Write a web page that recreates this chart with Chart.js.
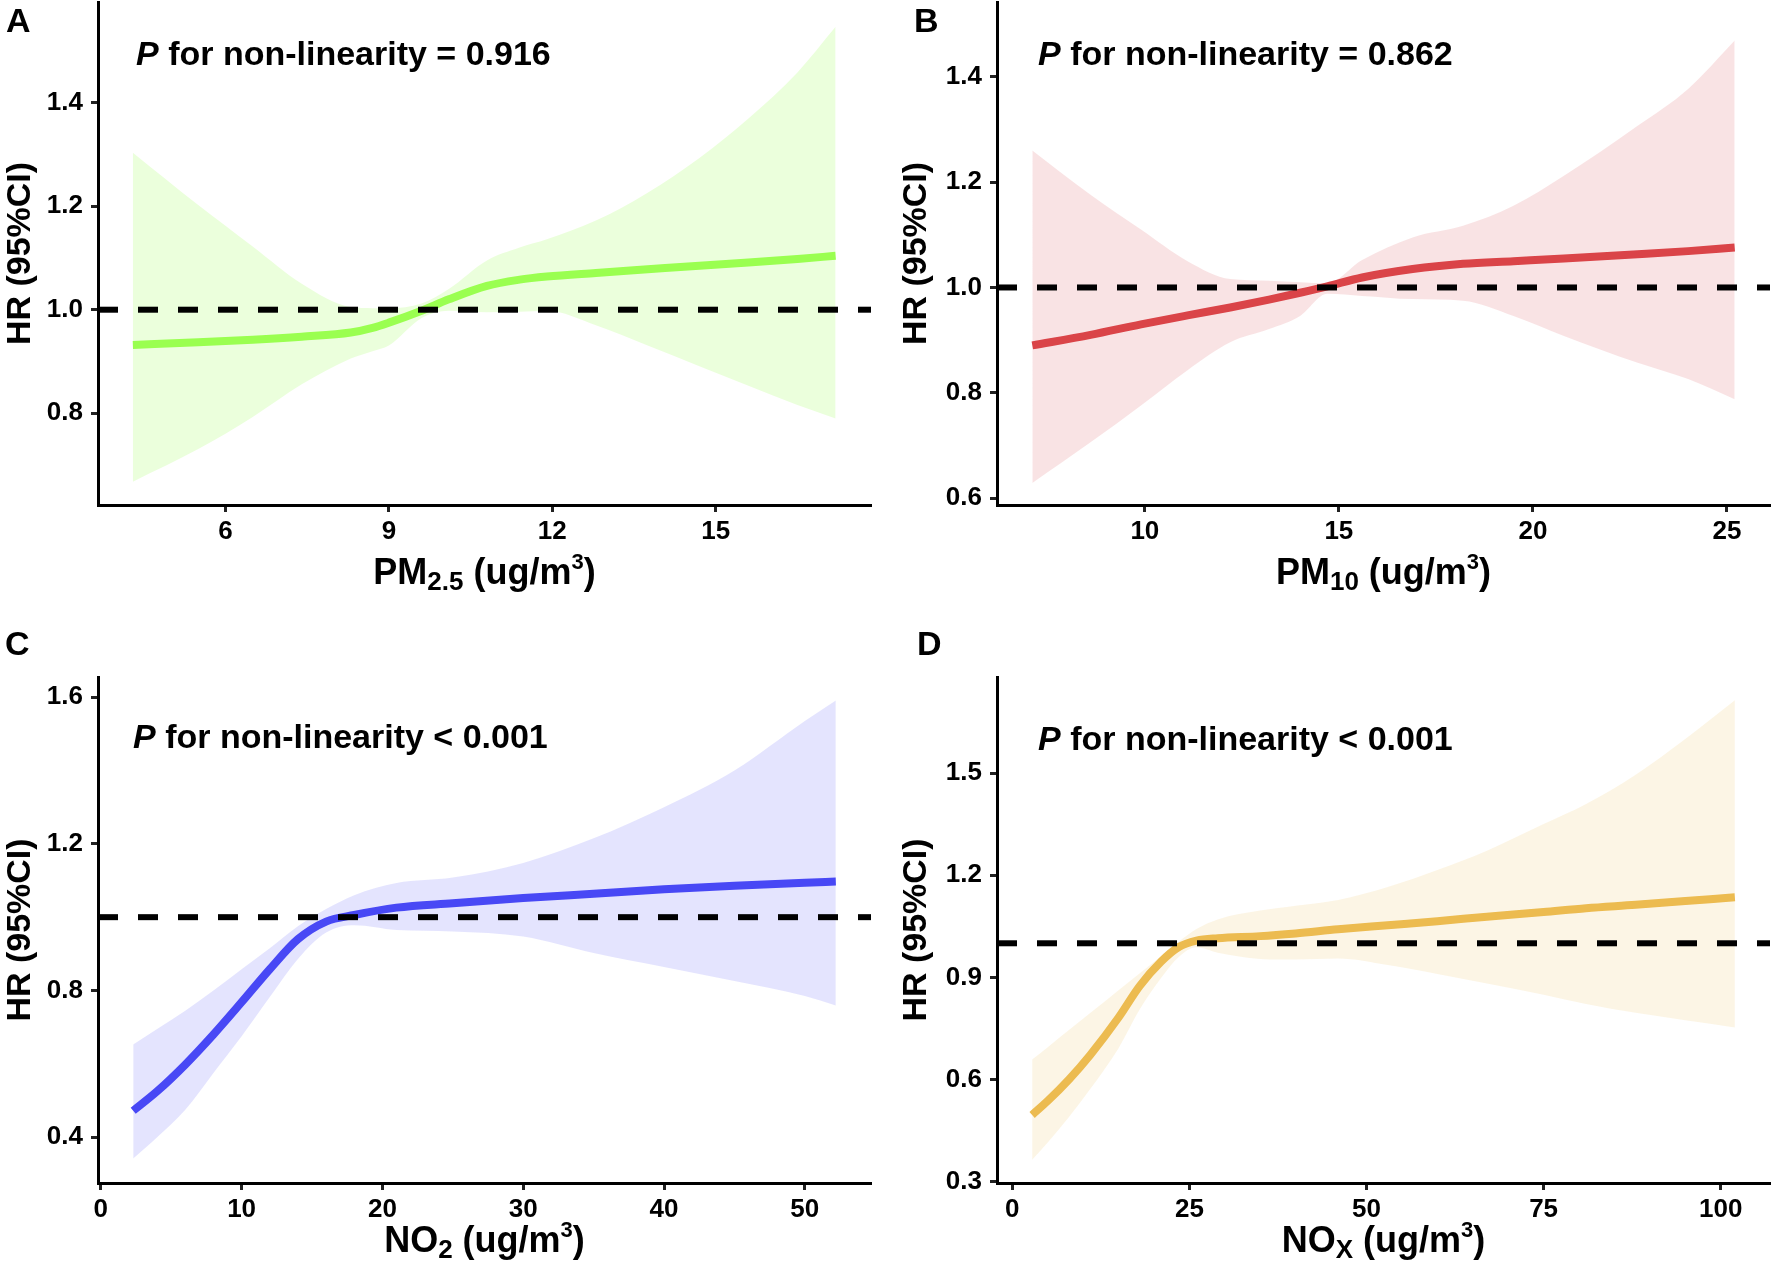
<!DOCTYPE html>
<html>
<head>
<meta charset="utf-8">
<script src="https://cdn.jsdelivr.net/npm/chart.js@4.4.1/dist/chart.umd.min.js"></script>
<style>
  html, body { margin: 0; padding: 0; background: #fff; }
  #wrap { position: relative; width: 1772px; height: 1266px; background: #fff; overflow: hidden;
          font-family: "Liberation Sans", Arial, sans-serif; font-weight: bold; color: #000; }
  .panel { position: absolute; width: 886px; height: 633px; }
  .txt { position: absolute; white-space: nowrap; }
  .ptxt { font-size: 34px; line-height: 34px; }
  .xt { font-size: 36px; line-height: 36px; text-align: center; }
  .letter { font-size: 34px; line-height: 34px; }
  .sub { font-size: 26px; vertical-align: -6px; line-height: 0; }
  .sup { font-size: 22px; vertical-align: 15px; line-height: 0; }
</style>
</head>
<body>
<div id="wrap">
  <div class="panel" style="left:0;top:0"><canvas id="cA" width="886" height="633"></canvas></div>
  <div class="panel" style="left:886px;top:0"><canvas id="cB" width="886" height="633"></canvas></div>
  <div class="panel" style="left:0;top:633px"><canvas id="cC" width="886" height="633"></canvas></div>
  <div class="panel" style="left:886px;top:633px"><canvas id="cD" width="886" height="633"></canvas></div>

  <div class="txt letter" style="left:6px;top:3px">A</div>
  <div class="txt letter" style="left:914px;top:3px">B</div>
  <div class="txt letter" style="left:5px;top:626px">C</div>
  <div class="txt letter" style="left:917px;top:626px">D</div>

  <div class="txt ptxt" style="left:136px;top:36px"><i>P</i> for non-linearity = 0.916</div>
  <div class="txt ptxt" style="left:1038px;top:36px"><i>P</i> for non-linearity = 0.862</div>
  <div class="txt ptxt" style="left:133px;top:719px"><i>P</i> for non-linearity &lt; 0.001</div>
  <div class="txt ptxt" style="left:1038px;top:721px"><i>P</i> for non-linearity &lt; 0.001</div>

  <div class="txt xt" style="left:98px;width:773px;top:554px">PM<span class="sub">2.5</span> (ug/m<span class="sup">3</span>)</div>
  <div class="txt xt" style="left:997px;width:773px;top:554px">PM<span class="sub">10</span> (ug/m<span class="sup">3</span>)</div>
  <div class="txt xt" style="left:98px;width:773px;top:1222px">NO<span class="sub">2</span> (ug/m<span class="sup">3</span>)</div>
  <div class="txt xt" style="left:997px;width:773px;top:1222px">NO<span class="sub">X</span> (ug/m<span class="sup">3</span>)</div>
</div>

<script>
// ---------- Panel A: PM2.5 ----------
const pm25X     = [4.3, 5.5, 6.5, 7.4, 8.3, 8.7, 9.0, 9.6, 10.1, 10.8, 11.4, 11.9, 12.8, 13.75, 14.7, 15.6, 16.5, 17.2];
const pm25HR    = [0.932, 0.937, 0.942, 0.948, 0.956, 0.965, 0.975, 0.998, 1.020, 1.046, 1.058, 1.064, 1.071, 1.078, 1.085, 1.091, 1.098, 1.104];
const pm25Upper = [1.303, 1.202, 1.122, 1.050, 1.005, 1.003, 1.003, 1.012, 1.040, 1.095, 1.120, 1.136, 1.172, 1.226, 1.293, 1.369, 1.458, 1.546];
const pm25Lower = [0.668, 0.731, 0.793, 0.856, 0.906, 0.920, 0.931, 0.984, 0.998, 0.995, 0.996, 0.998, 0.970, 0.931, 0.891, 0.853, 0.816, 0.790];
const pm25XTicks = [6, 9, 12, 15];
const pm25YTicks = [0.8, 1.0, 1.2, 1.4];

// ---------- Panel B: PM10 ----------
const pm10X     = [7.1, 8.6, 9.9, 11.1, 12.2, 13.2, 14.0, 14.7, 15.6, 16.9, 18.2, 19.5, 20.8, 22.7, 24.0, 25.2];
const pm10HR    = [0.890, 0.910, 0.930, 0.947, 0.962, 0.977, 0.990, 1.002, 1.019, 1.035, 1.045, 1.050, 1.055, 1.063, 1.069, 1.076];
const pm10Upper = [1.260, 1.176, 1.110, 1.050, 1.016, 1.013, 1.010, 1.008, 1.052, 1.095, 1.117, 1.155, 1.212, 1.307, 1.377, 1.469];
const pm10Lower = [0.629, 0.706, 0.776, 0.843, 0.896, 0.921, 0.946, 0.988, 0.984, 0.978, 0.975, 0.946, 0.908, 0.857, 0.826, 0.788];
const pm10XTicks = [10, 15, 20, 25];
const pm10YTicks = [0.6, 0.8, 1.0, 1.2, 1.4];

// ---------- Panel C: NO2 ----------
const no2X     = [2.3, 4, 6, 8, 10, 12, 14, 16, 18, 21, 25, 30, 35, 40, 45, 50, 52.2];
const no2HR    = [0.472, 0.525, 0.598, 0.680, 0.768, 0.858, 0.940, 0.988, 1.006, 1.026, 1.038, 1.052, 1.064, 1.076, 1.086, 1.094, 1.097];
const no2Upper = [0.653, 0.695, 0.745, 0.800, 0.858, 0.915, 0.975, 1.022, 1.060, 1.093, 1.108, 1.148, 1.215, 1.300, 1.400, 1.535, 1.591];
const no2Lower = [0.342, 0.400, 0.475, 0.575, 0.675, 0.782, 0.886, 0.958, 0.978, 0.965, 0.961, 0.947, 0.902, 0.864, 0.826, 0.785, 0.759];
const no2XTicks = [0, 10, 20, 30, 40, 50];
const no2YTicks = [0.4, 0.8, 1.2, 1.6];

// ---------- Panel D: NOx ----------
const noxX     = [2.8, 5, 8, 11, 15, 18, 21, 23.5, 26, 29, 35, 40, 46, 53, 60, 67, 75, 81, 88, 95, 102];
const noxHR    = [0.496, 0.537, 0.600, 0.672, 0.782, 0.875, 0.946, 0.989, 1.008, 1.015, 1.021, 1.029, 1.041, 1.053, 1.065, 1.078, 1.092, 1.103, 1.113, 1.124, 1.135];
const noxUpper = [0.659, 0.695, 0.745, 0.795, 0.862, 0.912, 0.962, 1.005, 1.042, 1.070, 1.096, 1.110, 1.127, 1.165, 1.215, 1.272, 1.350, 1.409, 1.495, 1.600, 1.714];
const noxLower = [0.364, 0.415, 0.490, 0.572, 0.692, 0.806, 0.898, 0.960, 0.988, 0.972, 0.954, 0.952, 0.955, 0.936, 0.910, 0.882, 0.849, 0.822, 0.796, 0.774, 0.753];
const noxXTicks = [0, 25, 50, 75, 100];
const noxYTicks = [0.3, 0.6, 0.9, 1.2, 1.5];

const refHR = 1.0;
const FONT = '"Liberation Sans", Arial, sans-serif';

function pts(xs, ys) { return xs.map((x, i) => ({ x: x, y: ys[i] })); }

function makePanel(id, cfg) {
  const axisCommon = {
    type: 'linear',
    grid: { drawOnChartArea: false, drawTicks: true, tickLength: 7, tickWidth: 3, tickColor: '#222' },
    border: { display: true, color: '#000', width: 3 },
  };
  new Chart(document.getElementById(id), {
    type: 'line',
    data: {
      datasets: [
        { label: 'ref', data: [{ x: cfg.xRange[0], y: refHR }, { x: cfg.xRange[1], y: refHR }],
          borderColor: '#000', borderWidth: 6, borderDash: [20, 20], pointRadius: 0, fill: false, order: 0 },
        { label: 'HR', data: pts(cfg.x, cfg.hr), borderColor: cfg.line, borderWidth: 8,
          pointRadius: 0, fill: false, cubicInterpolationMode: 'monotone', order: 1, borderCapStyle: 'butt' },
        { label: 'upper', data: pts(cfg.x, cfg.up), borderWidth: 0, borderColor: 'rgba(0,0,0,0)',
          backgroundColor: cfg.fill, pointRadius: 0, fill: '+1', cubicInterpolationMode: 'monotone', order: 2 },
        { label: 'lower', data: pts(cfg.x, cfg.lo), borderWidth: 0, borderColor: 'rgba(0,0,0,0)',
          pointRadius: 0, fill: false, cubicInterpolationMode: 'monotone', order: 3 }
      ]
    },
    options: {
      responsive: false,
      animation: false,
      devicePixelRatio: 1,
      layout: { padding: { left: 0, right: cfg.padR, top: cfg.padT, bottom: 0 } },
      plugins: { legend: { display: false }, tooltip: { enabled: false } },
      scales: {
        x: Object.assign({}, axisCommon, {
          position: 'bottom', min: cfg.xRange[0], max: cfg.xRange[1],
          afterBuildTicks: s => { s.ticks = cfg.xTicks.map(v => ({ value: v })); },
          afterFit: s => { s.height = cfg.xH; s.paddingLeft = 0; s.paddingRight = 0; },
          ticks: { color: '#000', padding: 4, font: { family: FONT, size: 26, weight: 'bold' },
                   callback: v => String(v), maxRotation: 0, autoSkip: false }
        }),
        y: Object.assign({}, axisCommon, {
          position: 'left', min: cfg.yRange[0], max: cfg.yRange[1],
          afterBuildTicks: s => { s.ticks = cfg.yTicks.map(v => ({ value: v })); },
          afterFit: s => { s.width = cfg.yW; s.paddingTop = 0; s.paddingBottom = 0; },
          ticks: { color: '#000', padding: 8, font: { family: FONT, size: 26, weight: 'bold' },
                   callback: v => Number(v).toFixed(1), autoSkip: false },
          title: { display: true, text: 'HR (95%CI)', color: '#000',
                   font: { family: FONT, size: 34, weight: 'bold' }, padding: { top: cfg.titlePad, bottom: 0 } }
        })
      }
    }
  });
}

makePanel('cA', { x: pm25X, hr: pm25HR, up: pm25Upper, lo: pm25Lower,
  xTicks: pm25XTicks, yTicks: pm25YTicks, xRange: [3.66, 17.85], yRange: [0.623, 1.594],
  line: 'rgb(154,255,80)', fill: 'rgba(154,255,80,0.2)', yW: 98, xH: 128, padR: 15, padT: 2, titlePad: 0 });

makePanel('cB', { x: pm10X, hr: pm10HR, up: pm10Upper, lo: pm10Lower,
  xTicks: pm10XTicks, yTicks: pm10YTicks, xRange: [6.19, 26.11], yRange: [0.587, 1.542],
  line: 'rgb(218,68,72)', fill: 'rgba(218,68,72,0.15)', yW: 111, xH: 128, padR: 2, padT: 2, titlePad: 10 });

makePanel('cC', { x: no2X, hr: no2HR, up: no2Upper, lo: no2Lower,
  xTicks: no2XTicks, yTicks: no2YTicks, xRange: [-0.2, 54.7], yRange: [0.275, 1.655],
  line: 'rgb(72,72,245)', fill: 'rgba(72,72,245,0.15)', yW: 98, xH: 83, padR: 15, padT: 44, titlePad: 0 });

makePanel('cD', { x: noxX, hr: noxHR, up: noxUpper, lo: noxLower,
  xTicks: noxXTicks, yTicks: noxYTicks, xRange: [-2.16, 106.96], yRange: [0.296, 1.782],
  line: 'rgb(236,187,80)', fill: 'rgba(236,187,80,0.15)', yW: 111, xH: 83, padR: 2, padT: 44, titlePad: 10 });
</script>
</body>
</html>
